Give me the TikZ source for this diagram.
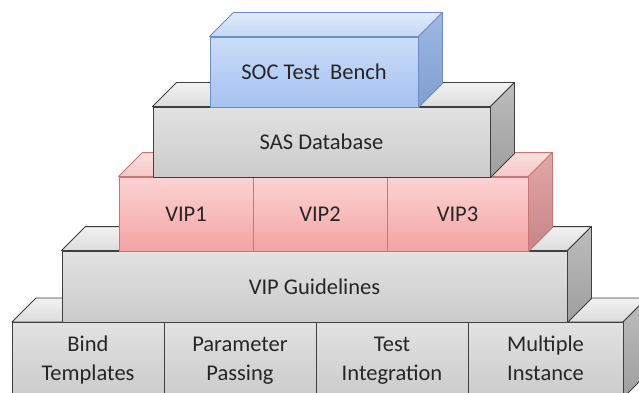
\documentclass[tikz,border=0pt]{standalone}
\usepackage{fontspec}
\setmainfont{Carlito}
\usetikzlibrary{calc}

% colour sets: front face (top/bottom), top face, side face, edge
\definecolor{gfrontA}{HTML}{E2E2E2}
\definecolor{gfrontB}{HTML}{CBCBCB}
\definecolor{gtopA}{HTML}{F2F2F2}
\definecolor{gtopB}{HTML}{DCDCDC}
\definecolor{gsideA}{HTML}{BDBDBD}
\definecolor{gsideB}{HTML}{9E9E9E}
\definecolor{gedge}{HTML}{3F3F3F}

\definecolor{bfrontA}{HTML}{CADCF8}
\definecolor{bfrontB}{HTML}{A6C2F0}
\definecolor{btopA}{HTML}{E0EAFB}
\definecolor{btopB}{HTML}{C4D7F6}
\definecolor{bsideA}{HTML}{9DB8E2}
\definecolor{bsideB}{HTML}{7F9ECF}
\definecolor{bedge}{HTML}{6E8DC4}

\definecolor{rfrontA}{HTML}{FDD3D3}
\definecolor{rfrontB}{HTML}{F4A3A3}
\definecolor{rtopA}{HTML}{FBE0E0}
\definecolor{rtopB}{HTML}{F5C7C7}
\definecolor{rsideA}{HTML}{E0A8A8}
\definecolor{rsideB}{HTML}{C98484}
\definecolor{redge}{HTML}{C77575}

\definecolor{txt}{HTML}{262626}

\begin{document}
\begin{tikzpicture}[x=1pt,y=-1pt,
  face/.style={line width=0.9pt, line join=round},
  gfront/.style={face, draw=gedge, top color=gfrontA, bottom color=gfrontB},
  gtop/.style={face, draw=gedge, top color=gtopA, bottom color=gtopB},
  gside/.style={face, draw=gedge, top color=gsideA, bottom color=gsideB},
  bfront/.style={face, draw=bedge, top color=bfrontA, bottom color=bfrontB},
  btop/.style={face, draw=bedge, top color=btopA, bottom color=btopB},
  bside/.style={face, draw=bedge, top color=bsideA, bottom color=bsideB},
  rfront/.style={face, draw=redge, top color=rfrontA, bottom color=rfrontB},
  rtop/.style={face, draw=redge, top color=rtopA, bottom color=rtopB},
  rside/.style={face, draw=redge, top color=rsideA, bottom color=rsideB},
  cell/.style={rectangle, inner sep=0pt, align=center, text=txt,
    font=\fontsize{22.5}{29}\selectfont},
]
\useasboundingbox (0,0) rectangle (639,393);
\clip (0,0) rectangle (639,393);
\fill[white] (0,0) rectangle (639,393);

\def\dep{24}

% ---- bottom row: four cells
\path[gtop] (12,322) -- ++(\dep,-\dep) -- (623+\dep,322-\dep) -- (623,322) -- cycle;
\path[gside] (623,322) -- ++(\dep,-\dep) -- (623+\dep,398-\dep) -- (623,398) -- cycle;
\node[cell, gfront, minimum width=152pt, minimum height=76pt] (b1) at (88,360) {Bind\strut\\Templates\strut};
\node[cell, gfront, minimum width=152pt, minimum height=76pt] (b2) at (240,360) {Parameter\strut\\Passing\strut};
\node[cell, gfront, minimum width=152pt, minimum height=76pt] (b3) at (392,360) {Test\strut\\Integration\strut};
\node[cell, gfront, minimum width=155pt, minimum height=76pt] (b4) at (545.5,360) {Multiple\strut\\Instance\strut};

% ---- VIP Guidelines
\node[cell, gfront, minimum width=505pt, minimum height=71pt] (g) at (314.5,286.5) {VIP Guidelines};
\path[gtop] (g.north west) -- ++(\dep,-\dep) -- ($(g.north east)+(\dep,-\dep)$) -- (g.north east) -- cycle;
\path[gside] (g.north east) -- ++(\dep,-\dep) -- ($(g.south east)+(\dep,-\dep)$) -- (g.south east) -- cycle;

% ---- VIP row
\node[cell, rfront, minimum width=134pt, minimum height=74pt] (v1) at (186,214) {VIP1};
\node[cell, rfront, minimum width=134pt, minimum height=74pt] (v2) at (320,214) {VIP2};
\node[cell, rfront, minimum width=141pt, minimum height=74pt] (v3) at (457.5,214) {VIP3};
\path[rtop] (v1.north west) -- ++(\dep,-\dep) -- ($(v3.north east)+(\dep,-\dep)$) -- (v3.north east) -- cycle;
\path[rside] (v3.north east) -- ++(\dep,-\dep) -- ($(v3.south east)+(\dep,-\dep)$) -- (v3.south east) -- cycle;

% ---- SAS Database
\node[cell, gfront, minimum width=337pt, minimum height=70pt] (s) at (321.5,142) {SAS Database};
\path[gtop] (s.north west) -- ++(\dep,-\dep) -- ($(s.north east)+(\dep,-\dep)$) -- (s.north east) -- cycle;
\path[gside] (s.north east) -- ++(\dep,-\dep) -- ($(s.south east)+(\dep,-\dep)$) -- (s.south east) -- cycle;

% ---- SOC Test Bench
\node[cell, bfront, minimum width=208pt, minimum height=70pt] (t) at (314,72) {SOC Test\ \ Bench};
\path[btop] (t.north west) -- ++(\dep,-\dep) -- ($(t.north east)+(\dep,-\dep)$) -- (t.north east) -- cycle;
\path[bside] (t.north east) -- ++(\dep,-\dep) -- ($(t.south east)+(\dep,-\dep)$) -- (t.south east) -- cycle;
\end{tikzpicture}
\end{document}
